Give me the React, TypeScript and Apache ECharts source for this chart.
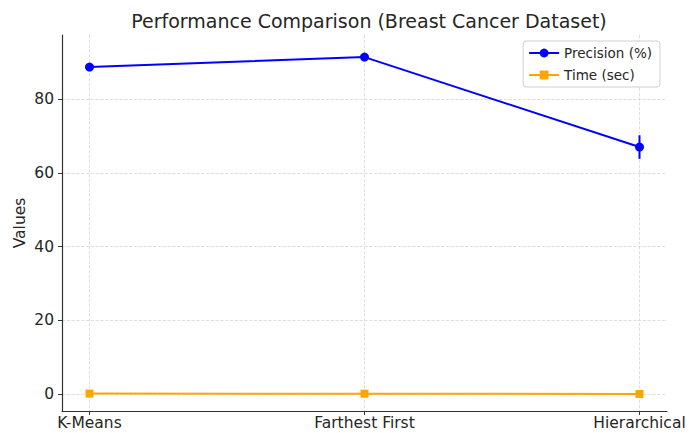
import React, { useEffect, useRef } from "react";
import * as echarts from "echarts";

const categories = ["K-Means", "Farthest First", "Hierarchical"];
const precision = [88.7, 91.4, 67.0];
const precisionErr = [0.3, 0.8, 3.2];
const timeSec = [0.12, 0.1, 0.02];
const yTicks = [0, 20, 40, 60, 80];
const xTicks = [0, 1, 2];

const FONT = "DejaVu Sans";
const BLUE = "#0000ff";
const ORANGE = "#ffa500";

export default function App() {
  const ref = useRef<HTMLDivElement>(null);
  useEffect(() => {
    if (!ref.current) return;
    const chart = echarts.init(ref.current, null, { renderer: "svg" });
    const precData = precision.map((v, i) => [i, v]);
    const timeData = timeSec.map((v, i) => [i, v]);
    const errData = precision.map((v, i) => [i, v - precisionErr[i], v + precisionErr[i]]);
    chart.setOption({
      animation: false,
      textStyle: { fontFamily: FONT },
      title: {
        text: "Performance Comparison (Breast Cancer Dataset)",
        left: 364,
        textAlign: "center",
        top: 6,
        textStyle: { fontFamily: FONT, fontSize: 19, fontWeight: "normal", color: "#262626" },
      },
      grid: { left: 62, right: 22, top: 35, bottom: 22, containLabel: false },
      legend: {
        orient: "vertical",
        right: 29,
        top: 41,
        padding: [5, 8, 5, 5],
        itemGap: 8,
        itemWidth: 30,
        itemHeight: 11,
        borderColor: "#d0d0d0",
        borderWidth: 1,
        borderRadius: 3,
        backgroundColor: "#ffffff",
        textStyle: { fontFamily: FONT, fontSize: 13.5, color: "#262626" },
        data: ["Precision (%)", "Time (sec)"],
      },
      xAxis: {
        type: "value",
        min: -0.1,
        max: 2.1,
        axisLine: { show: true, onZero: false, lineStyle: { color: "#333", width: 1.2 } },
        axisTick: { show: true, customValues: xTicks, length: 4, lineStyle: { color: "#333" } },
        axisLabel: {
          customValues: xTicks,
          formatter: (v: number) => categories[Math.round(v)] ?? "",
          fontFamily: FONT,
          fontSize: 15.5,
          color: "#262626",
          margin: 4,
        },
        splitLine: { show: true, lineStyle: { color: "#d6d6d6", type: "dashed", width: 0.8 } },
      },
      yAxis: {
        type: "value",
        min: -4.6,
        max: 97.4,
        name: "Values",
        nameLocation: "middle",
        nameGap: 34,
        nameMoveOverlap: false,
        nameRotate: 90,
        nameTextStyle: { fontFamily: FONT, fontSize: 15.5, color: "#262626" },
        axisLine: { show: true, onZero: false, lineStyle: { color: "#333", width: 1.2 } },
        axisTick: { show: true, customValues: yTicks, length: 4, lineStyle: { color: "#333" } },
        axisLabel: {
          customValues: yTicks,
          fontFamily: FONT,
          fontSize: 15.5,
          color: "#262626",
          margin: 8,
        },
        splitLine: { show: true, lineStyle: { color: "#d6d6d6", type: "dashed", width: 0.8 } },
      },
      series: [
        {
          name: "Time (sec)",
          type: "line",
          data: timeData,
          symbol: "rect",
          symbolSize: 8,
          color: ORANGE,
          lineStyle: { color: ORANGE, width: 2 },
          itemStyle: { color: ORANGE },
          z: 3,
        },
        {
          name: "Precision (%)",
          type: "line",
          data: precData,
          symbol: "circle",
          symbolSize: 9,
          color: BLUE,
          lineStyle: { color: BLUE, width: 2 },
          itemStyle: { color: BLUE },
          z: 4,
        },
        {
          name: "precErr",
          type: "custom",
          data: errData,
          z: 5,
          renderItem: (params: any, api: any) => {
            const x = api.value(0);
            const p1 = api.coord([x, api.value(1)]);
            const p2 = api.coord([x, api.value(2)]);
            return {
              type: "line",
              shape: { x1: p1[0], y1: p1[1], x2: p2[0], y2: p2[1] },
              style: { stroke: BLUE, lineWidth: 2 },
            };
          },
        },
      ],
    });
    return () => chart.dispose();
  }, []);
  return (
    <div
      ref={ref}
      style={{ position: "fixed", left: 0, top: 0, width: 689, height: 433, background: "#fff" }}
    />
  );
}
